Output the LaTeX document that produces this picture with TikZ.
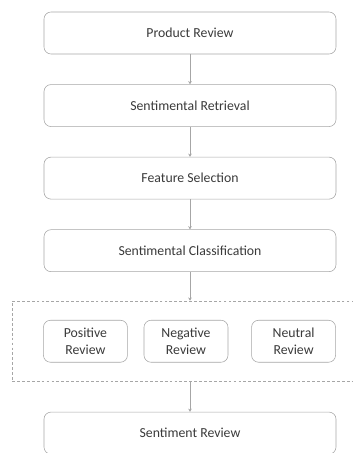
\documentclass[tikz,border=0pt]{standalone}
\usepackage{fontspec}
\setmainfont{Carlito}
\usepackage{tikz}
\usetikzlibrary{arrows.meta,positioning,fit}
\definecolor{edge}{HTML}{A6A6A6}
\definecolor{txt}{HTML}{3A3A3A}

\begin{document}
\begin{tikzpicture}[node distance=0.75cm,
  bx/.style={draw=edge,rounded corners=5pt,font=\fontsize{9.8}{11.5}\selectfont,text=txt,minimum width=7.3cm,minimum height=1.05cm},
  sm/.style={draw=edge,rounded corners=5pt,font=\fontsize{9.8}{11.5}\selectfont,text=txt,align=center,minimum width=2.1cm,minimum height=1.05cm},
  grpbox/.style={draw=edge,dash pattern=on 2pt off 1.5pt,inner xsep=0.775cm,inner ysep=0.475cm},
  ar/.style={-{Stealth[length=0.8mm,width=0.9mm]},edge}]
  \useasboundingbox (-4.75,0.825) rectangle (4.05,-10.5);
  \node[bx] (prod) at (0,0) {Product Review};
  \node[bx,below=of prod] (ret) {Sentimental Retrieval};
  \node[bx,below=of ret] (feat) {Feature Selection};
  \node[bx,below=of feat] (cls) {Sentimental Classification};
  \node[sm,below=1.2cm of cls,xshift=-0.1cm] (neg) {Negative\\Review};
  \node[sm,left=0.4cm of neg] (pos) {Positive\\Review};
  \node[sm,right=0.575cm of neg] (neu) {Neutral\\Review};
  \node[grpbox,fit=(pos) (neg) (neu)] (grp) {};
  \node[bx,below=of grp.south -| prod,anchor=north] (sent) {Sentiment Review};
  \draw[ar] (prod) -- (ret);
  \draw[ar] (ret) -- (feat);
  \draw[ar] (feat) -- (cls);
  \draw[ar] (cls) -- (cls |- grp.north);
  \draw[ar] (cls |- grp.south) -- (sent);
\end{tikzpicture}
\end{document}
